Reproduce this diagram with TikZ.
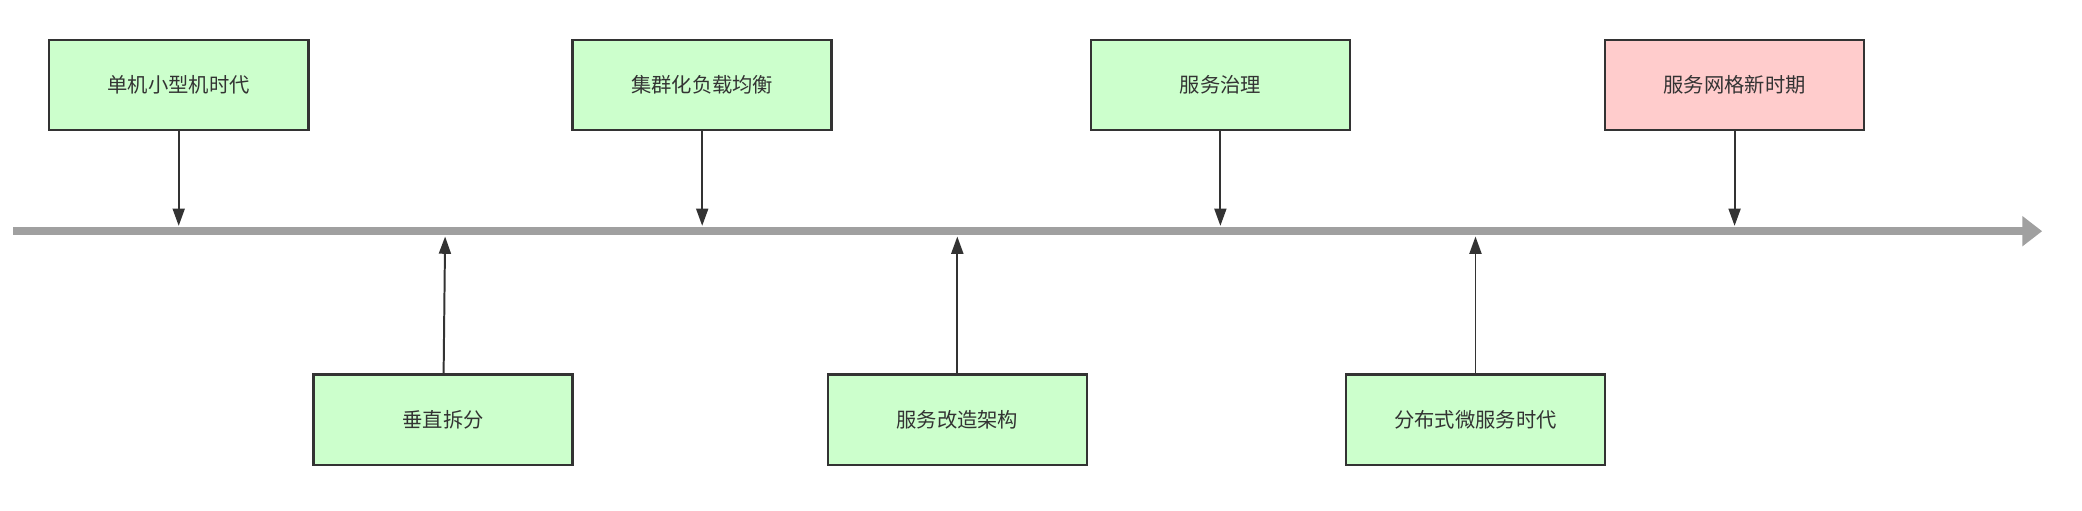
\documentclass[tikz,border=0pt]{standalone}
\usepackage{fontspec}
\newfontfamily\cjk{Noto Sans CJK SC}
\usetikzlibrary{arrows.meta}
\definecolor{boxgreen}{HTML}{CCFFCC}
\definecolor{boxpink}{HTML}{FFCCCC}
\definecolor{edge}{HTML}{333333}
\definecolor{axis}{HTML}{A0A0A0}
\begin{document}
\begin{tikzpicture}[x=0.02cm, y=-0.02cm,
    era/.style = {draw=edge, line width=1.1pt, fill=boxgreen, minimum width=3.9cm, minimum height=1.36cm, inner sep=0pt, font=\cjk\fontsize{8.7pt}{10pt}\selectfont, text=edge},
    link/.style = {draw=edge, line width=0.85pt, -{Triangle[length=0.26cm, width=0.18cm]}},
    axisline/.style = {draw=axis, line width=3.4pt, -{Triangle[length=0.3cm, width=0.44cm]}}]
    \useasboundingbox (0,0) rectangle (1567,383.9);

    % timeline
    \coordinate (start) at (10,174);
    \coordinate (end) at (1537,174);
    \draw[axisline] (start) -- (end);

    % eras above the line
    \node[era] (1) at (134.5,64) {单机小型机时代};
    \node[era] (3) at (528.5,64) {集群化负载均衡};
    \node[era] (5) at (918.5,64) {服务治理};
    \node[era, fill=boxpink] (7) at (1305.5,64) {服务网格新时期};

    % eras below the line
    \node[era] (2) at (333.5,316) {垂直拆分};
    \node[era] (4) at (720.5,316) {服务改造架构};
    \node[era] (6) at (1110.5,316) {分布式微服务时代};

    \coordinate (t1) at (134.5,170);
    \coordinate (t3) at (528.5,170);
    \coordinate (t5) at (918.5,170);
    \coordinate (t7) at (1305.5,170);
    \coordinate (t2) at (335,178);
    \coordinate (t4) at (720.5,178);
    \coordinate (t6) at (1110.5,178);

    \draw[link] (1) -- (t1);
    \draw[link] (3) -- (t3);
    \draw[link] (5) -- (t5);
    \draw[link] (7) -- (t7);
    \draw[link] (2) -- (t2);
    \draw[link] (4) -- (t4);
    \draw[link] (6) -- (t6);
\end{tikzpicture}
\end{document}
